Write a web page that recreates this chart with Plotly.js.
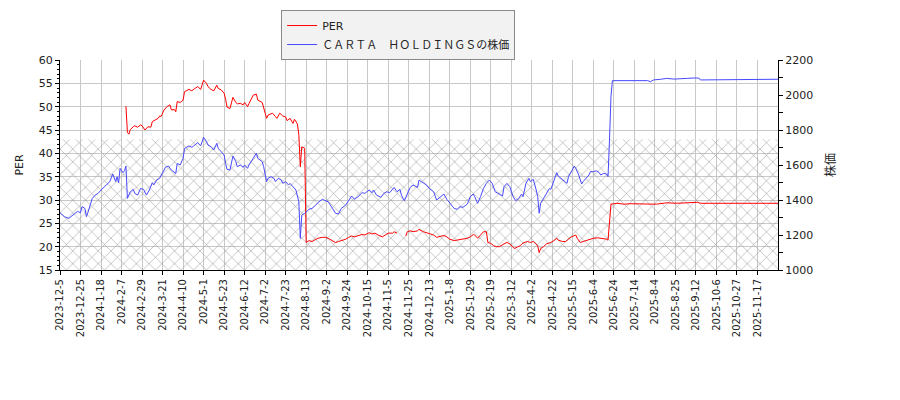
<!DOCTYPE html>
<html>
<head>
<meta charset="utf-8">
<script src="https://cdn.plot.ly/plotly-3.0.1.min.js"></script>
<style>
  html, body { margin: 0; padding: 0; background: #fff; }
  #chart { width: 900px; height: 400px; }
</style>
</head>
<body>
<div id="chart"></div>
<script>
//---------------------------------------------------------------------------------------------------------------------
// PER vs share price, x axis is the trading-day index (one tick every 14 trading days)
//---------------------------------------------------------------------------------------------------------------------
var tickDates = ['2023-12-5','2023-12-25','2024-1-18','2024-2-7','2024-2-29','2024-3-21','2024-4-10','2024-5-1',
    '2024-5-23','2024-6-12','2024-7-2','2024-7-23','2024-8-13','2024-9-2','2024-9-24','2024-10-15','2024-11-5',
    '2024-11-25','2024-12-13','2025-1-8','2025-1-29','2025-2-19','2025-3-12','2025-4-2','2025-4-22','2025-5-15',
    '2025-6-4','2025-6-24','2025-7-14','2025-8-4','2025-8-25','2025-9-12','2025-10-6','2025-10-27','2025-11-17'];
var tickStep = 14;
var lastDay = 490;

var priceDays = [0,3,6,8,10,12,14,15,17,18,19,20,22,24,26,28,31,34,36,38,39,40,41,43,44,45,46,48,50,51,53,55,57,59,
    61,63,64,66,68,70,72,74,76,79,80,82,84,85,88,90,92,94,96,98,100,101,103,105,107,108,110,112,113,114,116,117,118,
    120,121,123,125,126,128,129,131,132,134,135,138,139,141,142,144,146,147,149,151,152,154,156,157,159,161,163,164,
    165,167,170,172,174,176,179,181,183,186,188,190,192,195,197,199,201,204,206,208,211,213,214,216,219,221,223,225,
    228,230,232,233,235,237,239,241,244,245,248,250,252,255,257,260,262,264,266,269,271,273,275,278,280,282,283,285,
    287,289,291,293,295,297,299,302,303,305,307,309,311,313,315,316,318,320,321,323,325,326,327,328,330,332,334,335,
    337,339,340,342,344,346,347,349,351,352,354,356,357,359,361,362,364,366,368,369,371,373,374,375,376,377,380,401,
    403,405,410,414,419,423,428,432,436,437,446,450,454,455,490];
var priceVals = [1327,1305,1295,1308,1324,1335,1327,1362,1352,1305,1327,1352,1409,1428,1438,1457,1480,1505,1549,1505,
    1533,1499,1581,1556,1567,1594,1409,1447,1461,1438,1428,1466,1461,1428,1457,1499,1486,1514,1524,1552,1587,1594,1571,
    1552,1609,1600,1638,1695,1709,1701,1714,1728,1709,1758,1733,1714,1705,1686,1724,1695,1676,1657,1609,1575,1571,1609,
    1651,1619,1590,1600,1587,1600,1581,1600,1628,1644,1667,1638,1619,1590,1505,1524,1533,1524,1505,1524,1514,1495,1505,
    1486,1495,1476,1457,1390,1181,1314,1324,1347,1352,1366,1385,1404,1396,1390,1352,1324,1320,1352,1371,1400,1423,1404,
    1423,1442,1438,1457,1442,1457,1428,1415,1438,1447,1442,1472,1447,1461,1428,1396,1434,1472,1486,1472,1514,1495,1486,
    1466,1447,1400,1419,1434,1404,1381,1352,1347,1362,1358,1377,1419,1434,1419,1381,1419,1466,1495,1514,1495,1447,1438,
    1423,1476,1495,1476,1423,1396,1409,1434,1419,1495,1524,1505,1518,1457,1419,1324,1381,1409,1434,1466,1461,1505,1556,
    1537,1524,1510,1495,1533,1567,1594,1581,1543,1491,1505,1524,1543,1562,1562,1567,1556,1543,1552,1548,1533,1743,1990,
    2082,2082,2082,2076,2086,2090,2095,2091,2091,2095,2097,2097,2086,2086,2090,2086,2090,2090];

var perDays = [45,46,47,48,50,51,53,55,56,58,60,62,63,65,67,68,69,71,73,75,76,78,79,80,82,84,85,88,90,92,94,96,98,100,
    101,103,105,107,108,110,112,113,114,116,117,118,120,121,123,125,126,128,129,131,132,134,135,138,139,141,142,145,147,
    148,150,152,154,155,157,159,160,162,163,164,165,166,167,168,170,172,174,176,179,181,183,186,188,190,192,195,197,
    199,201,204,206,208,211,213,215,217,220,222,224,227,228,230,233,236,237,239,241,244,245,248,250,252,255,257,260,
    262,264,266,269,271,273,275,278,280,282,283,285,287,289,291,292,294,296,298,300,303,305,307,310,312,314,316,319,
    321,323,326,327,328,330,332,335,337,339,340,343,345,347,349,352,353,355,357,359,362,364,367,369,371,373,374,375,
    376,380,385,389,401,407,414,421,435,437,490];
var perVals = [50.1,44.5,44.1,45.1,45.7,45.9,45.6,46.1,45.9,45.0,45.7,45.6,46.8,47.1,47.5,48.0,47.9,49.3,50.0,50.4,49.3,
    49.4,48.9,51.1,50.9,51.4,53.2,53.7,53.4,53.9,54.3,53.7,55.7,55.0,54.3,53.7,53.4,54.6,53.9,53.6,52.9,51.6,49.9,49.6,
    50.7,52.0,50.9,50.6,50.7,50.4,50.9,50.0,50.7,52.1,52.5,52.7,51.4,50.9,49.9,47.5,48.2,48.6,47.9,47.5,48.6,48.0,47.8,
    47.0,47.5,46.4,47.3,46.3,44.0,37.1,41.4,41.3,41.1,20.9,21.3,21.1,21.4,21.8,22.0,22.0,21.8,21.3,20.9,21.1,21.3,21.6,
    22.0,22.3,22.1,22.5,22.6,22.5,23.0,22.7,22.9,22.5,22.1,22.5,22.9,22.9,23.2,22.9,null,22.3,23.2,23.4,23.2,23.4,23.7,
    23.2,23.0,22.7,22.5,22.0,22.3,22.4,22.1,21.6,21.3,21.4,21.4,21.6,21.8,22.1,22.6,22.5,21.8,22.5,23.2,23.2,20.9,20.7,
    20.2,20.0,20.0,20.6,20.9,20.6,19.6,19.9,20.2,20.8,21.1,20.9,21.1,20.2,18.7,19.6,20.0,20.6,20.9,21.3,21.8,21.4,21.1,
    21.1,21.6,22.1,22.5,21.8,20.9,21.1,21.4,21.6,21.8,21.9,21.8,21.8,21.6,21.4,26.4,29.1,29.3,29.1,29.2,29.2,29.1,29.4,
    29.3,29.5,29.3,29.3];

// shaded PER band
var bandLow = 15;
var bandHigh = 43;

var companyName = 'ＣＡＲＴＡ　ＨＯＬＤＩＮＧＳの株価';

function plot_per_price(divId) {
    var tickVals = [];
    for (var i = 0; i < tickDates.length; i++) tickVals.push(i * tickStep);

    var band = {x: [0, lastDay, lastDay, 0, 0], y: [bandHigh, bandHigh, bandLow, bandLow, bandHigh],
                mode: 'lines', fill: 'toself', line: {width: 0}, fillcolor: 'rgba(0,0,0,0)',
                fillpattern: {shape: 'x', size: 9, solidity: 0.12, fgcolor: '#9a9a9a', bgcolor: 'rgba(0,0,0,0)'},
                showlegend: false, hoverinfo: 'skip'};
    var trace1 = {x: perDays, y: perVals, name: 'PER', mode: 'lines', connectgaps: false,
                  line: {color: '#ff0000', width: 1}};
    var trace2 = {x: priceDays, y: priceVals, name: companyName, mode: 'lines', yaxis: 'y2',
                  line: {color: '#4848ff', width: 1}};

    var layout = {
        width: 900, height: 400,
        margin: {l: 60, r: 122, t: 60, b: 130, autoexpand: false},
        paper_bgcolor: '#fff', plot_bgcolor: '#fff',
        font: {family: 'DejaVu Sans, Noto Sans CJK JP', size: 11, color: '#222'},
        showlegend: true,
        legend: {x: 0.308, y: 1.238, xanchor: 'left', yanchor: 'top', bgcolor: '#f2f2f2',
                 bordercolor: '#888', borderwidth: 1, font: {size: 11, family: 'DejaVu Sans, Noto Sans CJK JP'},
                 tracegroupgap: 0, itemwidth: 30}
    };
    setXAxis(layout, tickVals);
    setYAxis(layout, 'PER');
    setY2Axis(layout, '株価');
    Plotly.newPlot(divId, [band, trace1, trace2], layout, {displayModeBar: false, staticPlot: true});
}

/**
 * Utility functions
 */
function setXAxis(layout, tickVals) {
    layout.xaxis = {range: [0, lastDay], tickmode: 'array', tickvals: tickVals, ticktext: tickDates,
        tickangle: -90, ticks: 'outside', ticklen: 4, tickcolor: '#000', linecolor: '#000', linewidth: 1,
        showgrid: true, gridcolor: '#c8c8c8', gridwidth: 1, zeroline: false, tickfont: {size: 10}};
    return layout;
}

function setYAxis(layout, ytitle) {
    layout.yaxis = {range: [15, 60], dtick: 5, ticks: 'outside', ticklen: 4, tickcolor: '#000',
        linecolor: '#000', linewidth: 1, showgrid: true, gridcolor: '#c8c8c8', zeroline: false,
        minor: {dtick: 1, ticks: 'outside', ticklen: 2, tickcolor: '#000', showgrid: false},
        tickfont: {size: 11}};
    layout.yaxis.title = {text: ytitle, font: {size: 11}, standoff: 12};
    return layout;
}

function setY2Axis(layout, ytitle) {
    layout.yaxis2 = {range: [1000, 2200], dtick: 200, overlaying: 'y', side: 'right', ticks: 'outside',
        ticklen: 4, tickcolor: '#000', linecolor: '#000', linewidth: 1, showgrid: false, zeroline: false,
        minor: {dtick: 100, ticks: 'outside', ticklen: 4, tickcolor: '#000', showgrid: false},
        tickfont: {size: 11}};
    layout.yaxis2.title = {text: ytitle, font: {size: 12, family: 'Noto Sans CJK JP'}, standoff: 14};
    return layout;
}

plot_per_price('chart');
</script>
</body>
</html>
